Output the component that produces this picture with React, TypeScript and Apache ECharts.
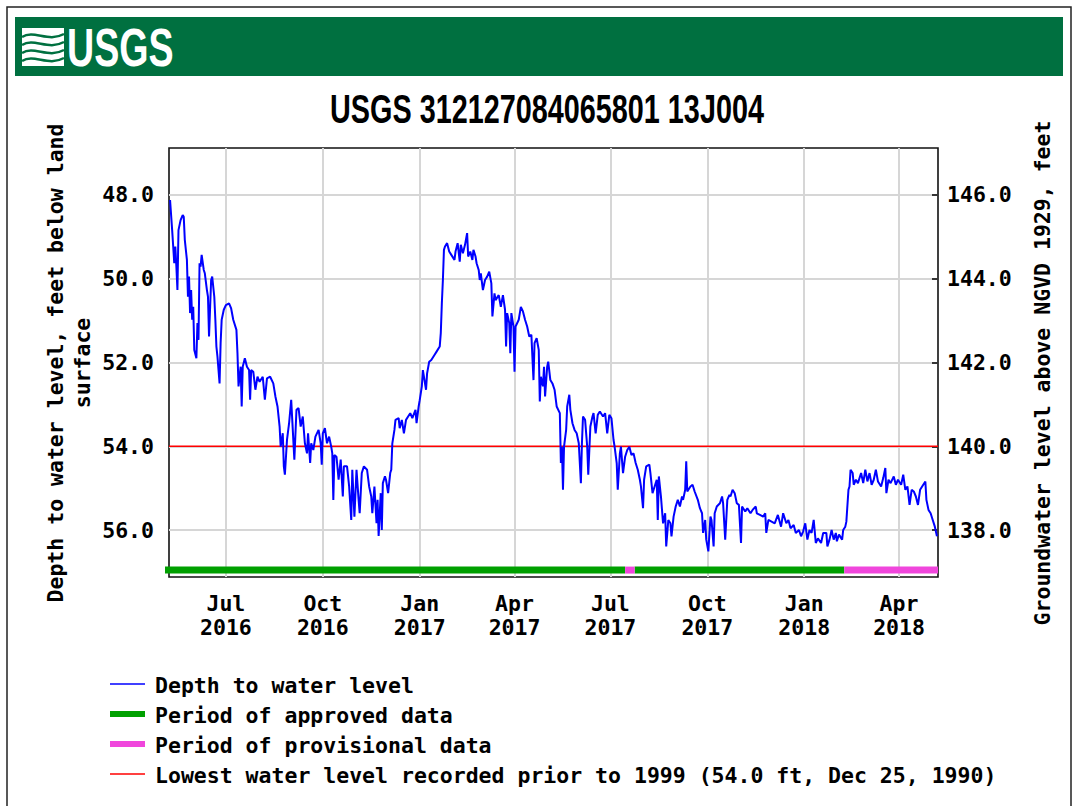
import React, { useEffect, useRef } from "react";
import * as echarts from "echarts";

// ---------- data ----------
const X_MIN = "2016-05-08";
const X_MAX = "2018-05-08";

const xTickDates = [
  "2016-07-01", "2016-10-01", "2017-01-01", "2017-04-01",
  "2017-07-01", "2017-10-01", "2018-01-01", "2018-04-01",
];
const depthTicks = [48, 50, 52, 54, 56];
const elevationTicks = [138, 140, 142, 144, 146];
const landSurfaceElevation = 194; // elevation = 194 - depth
const lowestLevel = 54.0;
const statusBarDepth = 56.957;

const approvedPeriods: [string, string][] = [
  ["2016-05-04", "2017-07-15"],
  ["2017-07-24", "2018-02-08"],
];
const provisionalPeriods: [string, string][] = [
  ["2017-07-15", "2017-07-24"],
  ["2018-02-08", "2018-05-08"],
];

const depthToWater: [string, number][] = [
  ["2016-05-09", 48.12], ["2016-05-11", 48.84], ["2016-05-13", 49.63], ["2016-05-14", 49.23],
  ["2016-05-15", 49.71], ["2016-05-16", 50.27], ["2016-05-17", 48.84], ["2016-05-19", 48.6],
  ["2016-05-21", 48.48], ["2016-05-22", 48.52], ["2016-05-23", 49.07], ["2016-05-25", 49.55],
  ["2016-05-26", 50.43], ["2016-05-27", 49.95], ["2016-05-28", 50.82], ["2016-05-29", 50.27],
  ["2016-05-30", 50.98], ["2016-05-31", 50.67], ["2016-06-01", 51.7], ["2016-06-03", 51.9],
  ["2016-06-04", 51.06], ["2016-06-05", 51.46], ["2016-06-06", 49.63], ["2016-06-07", 49.71],
  ["2016-06-08", 49.43], ["2016-06-10", 49.79], ["2016-06-11", 49.87], ["2016-06-13", 50.27],
  ["2016-06-14", 50.43], ["2016-06-15", 51.38], ["2016-06-17", 50.03], ["2016-06-18", 49.95],
  ["2016-06-20", 50.43], ["2016-06-21", 50.98], ["2016-06-22", 51.62], ["2016-06-23", 51.86],
  ["2016-06-25", 52.5], ["2016-06-26", 51.54], ["2016-06-27", 50.98], ["2016-06-29", 50.74],
  ["2016-07-01", 50.63], ["2016-07-04", 50.59], ["2016-07-06", 50.71], ["2016-07-08", 50.98],
  ["2016-07-11", 51.22], ["2016-07-12", 51.78], ["2016-07-13", 52.57], ["2016-07-15", 52.1],
  ["2016-07-16", 53.05], ["2016-07-17", 52.1], ["2016-07-19", 51.9], ["2016-07-21", 52.1],
  ["2016-07-23", 52.18], ["2016-07-24", 52.89], ["2016-07-25", 52.18], ["2016-07-27", 52.22],
  ["2016-07-29", 52.65], ["2016-07-31", 52.34], ["2016-08-02", 52.46], ["2016-08-05", 52.34],
  ["2016-08-07", 52.89], ["2016-08-09", 52.38], ["2016-08-12", 52.34], ["2016-08-15", 52.5],
  ["2016-08-17", 52.81], ["2016-08-19", 53.05], ["2016-08-21", 53.53], ["2016-08-22", 54.01],
  ["2016-08-24", 53.69], ["2016-08-25", 54.48], ["2016-08-26", 54.68], ["2016-08-28", 53.85],
  ["2016-08-30", 53.45], ["2016-09-01", 52.89], ["2016-09-02", 53.37], ["2016-09-04", 54.32],
  ["2016-09-06", 53.13], ["2016-09-08", 53.09], ["2016-09-10", 53.53], ["2016-09-12", 53.29],
  ["2016-09-14", 53.93], ["2016-09-16", 54.17], ["2016-09-17", 53.69], ["2016-09-19", 54.4],
  ["2016-09-20", 53.93], ["2016-09-22", 54.09], ["2016-09-24", 53.77], ["2016-09-27", 53.61],
  ["2016-09-29", 53.93], ["2016-09-30", 54.44], ["2016-10-01", 53.69], ["2016-10-03", 53.57],
  ["2016-10-05", 53.93], ["2016-10-07", 53.77], ["2016-10-09", 54.01], ["2016-10-10", 54.17],
  ["2016-10-11", 55.28], ["2016-10-12", 54.21], ["2016-10-14", 54.25], ["2016-10-16", 54.8],
  ["2016-10-18", 54.32], ["2016-10-20", 55.2], ["2016-10-21", 54.48], ["2016-10-24", 54.48],
  ["2016-10-26", 54.96], ["2016-10-28", 55.76], ["2016-10-29", 54.56], ["2016-10-31", 55.68],
  ["2016-11-02", 54.56], ["2016-11-04", 55.28], ["2016-11-05", 55.6], ["2016-11-07", 54.64],
  ["2016-11-09", 54.48], ["2016-11-12", 54.56], ["2016-11-14", 54.96], ["2016-11-16", 55.2],
  ["2016-11-17", 55.6], ["2016-11-19", 54.96], ["2016-11-21", 55.84], ["2016-11-22", 55.28],
  ["2016-11-23", 56.14], ["2016-11-25", 55.12], ["2016-11-26", 56.0], ["2016-11-27", 54.88],
  ["2016-11-29", 54.72], ["2016-11-30", 54.8], ["2016-12-02", 55.12], ["2016-12-04", 54.64],
  ["2016-12-05", 54.56], ["2016-12-06", 53.93], ["2016-12-08", 53.61], ["2016-12-09", 53.37],
  ["2016-12-12", 53.33], ["2016-12-13", 53.57], ["2016-12-15", 53.37], ["2016-12-17", 53.69],
  ["2016-12-19", 53.37], ["2016-12-21", 53.29], ["2016-12-23", 53.21], ["2016-12-25", 53.33],
  ["2016-12-28", 53.13], ["2016-12-29", 53.45], ["2016-12-31", 53.05], ["2017-01-01", 52.9],
  ["2017-01-03", 52.57], ["2017-01-04", 52.18], ["2017-01-07", 52.65], ["2017-01-08", 52.26],
  ["2017-01-10", 51.98], ["2017-01-12", 51.94], ["2017-01-15", 51.82], ["2017-01-17", 51.74],
  ["2017-01-20", 51.62], ["2017-01-21", 51.3], ["2017-01-22", 50.59], ["2017-01-23", 50.03],
  ["2017-01-24", 49.31], ["2017-01-25", 49.23], ["2017-01-27", 49.15], ["2017-01-29", 49.35],
  ["2017-01-31", 49.43], ["2017-02-03", 49.55], ["2017-02-04", 49.35], ["2017-02-06", 49.15],
  ["2017-02-08", 49.59], ["2017-02-09", 49.19], ["2017-02-11", 49.39], ["2017-02-13", 49.19],
  ["2017-02-15", 48.91], ["2017-02-16", 49.47], ["2017-02-18", 49.35], ["2017-02-20", 49.55],
  ["2017-02-21", 49.31], ["2017-02-23", 49.47], ["2017-02-24", 49.63], ["2017-02-26", 49.79],
  ["2017-02-27", 50.03], ["2017-02-28", 49.87], ["2017-03-02", 50.27], ["2017-03-04", 50.03],
  ["2017-03-06", 49.95], ["2017-03-08", 49.83], ["2017-03-10", 50.11], ["2017-03-11", 50.9],
  ["2017-03-13", 50.35], ["2017-03-14", 50.51], ["2017-03-17", 50.39], ["2017-03-19", 50.67],
  ["2017-03-21", 50.39], ["2017-03-23", 50.74], ["2017-03-24", 51.62], ["2017-03-25", 50.82],
  ["2017-03-27", 51.06], ["2017-03-28", 51.78], ["2017-03-29", 50.82], ["2017-03-31", 51.14],
  ["2017-04-01", 52.22], ["2017-04-02", 51.14], ["2017-04-05", 50.98], ["2017-04-07", 50.67],
  ["2017-04-09", 50.78], ["2017-04-11", 50.98], ["2017-04-13", 51.14], ["2017-04-15", 51.38],
  ["2017-04-17", 51.34], ["2017-04-19", 52.42], ["2017-04-20", 51.54], ["2017-04-22", 51.42],
  ["2017-04-24", 51.7], ["2017-04-25", 52.93], ["2017-04-26", 52.34], ["2017-04-28", 52.57],
  ["2017-04-29", 52.1], ["2017-04-30", 52.81], ["2017-05-02", 52.1], ["2017-05-03", 51.98],
  ["2017-05-05", 52.42], ["2017-05-07", 52.5], ["2017-05-09", 52.65], ["2017-05-11", 53.05],
  ["2017-05-14", 53.21], ["2017-05-15", 54.4], ["2017-05-16", 54.01], ["2017-05-17", 55.04],
  ["2017-05-18", 54.01], ["2017-05-20", 53.61], ["2017-05-21", 53.05], ["2017-05-23", 52.77],
  ["2017-05-24", 53.13], ["2017-05-26", 53.45], ["2017-05-28", 53.61], ["2017-05-30", 53.69],
  ["2017-06-01", 53.93], ["2017-06-03", 54.88], ["2017-06-04", 53.93], ["2017-06-05", 53.29],
  ["2017-06-07", 53.37], ["2017-06-09", 54.01], ["2017-06-10", 54.68], ["2017-06-12", 53.53],
  ["2017-06-14", 53.29], ["2017-06-15", 53.21], ["2017-06-17", 53.69], ["2017-06-19", 53.25],
  ["2017-06-21", 53.17], ["2017-06-24", 53.29], ["2017-06-26", 53.21], ["2017-06-28", 53.69],
  ["2017-06-30", 53.25], ["2017-07-02", 53.33], ["2017-07-04", 53.85], ["2017-07-05", 54.01],
  ["2017-07-07", 54.4], ["2017-07-08", 55.04], ["2017-07-10", 54.17], ["2017-07-11", 54.01],
  ["2017-07-13", 54.64], ["2017-07-15", 54.25], ["2017-07-17", 54.09], ["2017-07-19", 54.01],
  ["2017-07-21", 54.21], ["2017-07-23", 54.17], ["2017-07-25", 54.4], ["2017-07-27", 54.56],
  ["2017-07-29", 54.8], ["2017-07-30", 54.96], ["2017-08-01", 55.48], ["2017-08-02", 54.8],
  ["2017-08-04", 54.48], ["2017-08-07", 54.44], ["2017-08-08", 54.64], ["2017-08-10", 55.12],
  ["2017-08-12", 54.96], ["2017-08-14", 54.8], ["2017-08-15", 55.76], ["2017-08-16", 54.72],
  ["2017-08-18", 55.2], ["2017-08-20", 55.84], ["2017-08-22", 55.6], ["2017-08-23", 56.39],
  ["2017-08-25", 55.76], ["2017-08-27", 55.84], ["2017-08-28", 56.15], ["2017-08-30", 55.68],
  ["2017-09-01", 55.44], ["2017-09-03", 55.28], ["2017-09-05", 55.44], ["2017-09-07", 55.2],
  ["2017-09-08", 55.28], ["2017-09-10", 55.04], ["2017-09-11", 54.36], ["2017-09-12", 55.08],
  ["2017-09-15", 54.96], ["2017-09-17", 54.92], ["2017-09-19", 55.08], ["2017-09-22", 55.28],
  ["2017-09-24", 55.48], ["2017-09-26", 55.6], ["2017-09-27", 56.07], ["2017-09-29", 55.76],
  ["2017-09-30", 56.23], ["2017-10-02", 56.51], ["2017-10-04", 55.68], ["2017-10-05", 55.76],
  ["2017-10-07", 56.39], ["2017-10-08", 55.6], ["2017-10-10", 55.44], ["2017-10-13", 55.36],
  ["2017-10-15", 55.2], ["2017-10-16", 55.36], ["2017-10-18", 56.23], ["2017-10-20", 55.28],
  ["2017-10-22", 55.16], ["2017-10-23", 55.2], ["2017-10-25", 55.04], ["2017-10-27", 55.12],
  ["2017-10-29", 55.36], ["2017-10-31", 55.4], ["2017-11-02", 56.31], ["2017-11-03", 55.44],
  ["2017-11-06", 55.56], ["2017-11-08", 55.48], ["2017-11-11", 55.6], ["2017-11-13", 55.52],
  ["2017-11-16", 55.44], ["2017-11-17", 55.6], ["2017-11-20", 55.64], ["2017-11-23", 55.68],
  ["2017-11-25", 55.6], ["2017-11-26", 56.07], ["2017-11-28", 55.76], ["2017-12-01", 55.8],
  ["2017-12-04", 55.84], ["2017-12-07", 55.64], ["2017-12-10", 55.92], ["2017-12-12", 55.6],
  ["2017-12-15", 55.84], ["2017-12-17", 55.76], ["2017-12-19", 55.96], ["2017-12-22", 55.88],
  ["2017-12-24", 56.07], ["2017-12-27", 56.0], ["2017-12-29", 56.15], ["2017-12-31", 56.03],
  ["2018-01-02", 55.84], ["2018-01-04", 56.23], ["2018-01-06", 56.0], ["2018-01-08", 56.07],
  ["2018-01-10", 55.76], ["2018-01-12", 56.31], ["2018-01-14", 56.2], ["2018-01-17", 56.31],
  ["2018-01-19", 56.07], ["2018-01-22", 56.07], ["2018-01-23", 56.39], ["2018-01-25", 56.23],
  ["2018-01-27", 56.0], ["2018-01-29", 56.23], ["2018-01-31", 56.07], ["2018-02-01", 56.27],
  ["2018-02-03", 56.11], ["2018-02-06", 56.23], ["2018-02-07", 56.0], ["2018-02-09", 55.92],
  ["2018-02-10", 55.8], ["2018-02-12", 55.04], ["2018-02-13", 54.96], ["2018-02-14", 54.56],
  ["2018-02-16", 54.64], ["2018-02-17", 54.92], ["2018-02-19", 54.8], ["2018-02-21", 54.88],
  ["2018-02-24", 54.64], ["2018-02-26", 54.88], ["2018-02-28", 54.56], ["2018-03-02", 54.84],
  ["2018-03-04", 54.64], ["2018-03-06", 54.92], ["2018-03-08", 54.8], ["2018-03-10", 54.56],
  ["2018-03-12", 54.84], ["2018-03-15", 54.96], ["2018-03-17", 54.76], ["2018-03-19", 54.52],
  ["2018-03-20", 55.12], ["2018-03-22", 54.8], ["2018-03-24", 54.88], ["2018-03-27", 54.72],
  ["2018-03-29", 54.92], ["2018-03-31", 54.8], ["2018-04-03", 54.92], ["2018-04-05", 54.68],
  ["2018-04-07", 55.04], ["2018-04-09", 54.96], ["2018-04-11", 55.4], ["2018-04-13", 55.04],
  ["2018-04-15", 55.08], ["2018-04-17", 55.2], ["2018-04-19", 55.4], ["2018-04-21", 55.04],
  ["2018-04-24", 54.92], ["2018-04-26", 54.84], ["2018-04-27", 55.28], ["2018-04-29", 55.52],
  ["2018-05-01", 55.6], ["2018-05-03", 55.76], ["2018-05-05", 55.92], ["2018-05-07", 56.15],
];

const titleText = "USGS 312127084065801 13J004";
const leftAxisName = ["Depth to water level, feet below land", "surface"];
const rightAxisName = "Groundwater level above NGVD 1929, feet";
const legendLabels = [
  "Depth to water level",
  "Period of approved data",
  "Period of provisional data",
  "Lowest water level recorded prior to 1999 (54.0 ft, Dec 25, 1990)",
];

// ---------- styling ----------
const MONO = '"DejaVu Sans Mono", "Liberation Mono", monospace';
const FS = 21.5;
const BLUE = "#0000ff";
const GREEN = "#00a000";
const PINK = "#f046dc";
const RED = "#ff0000";
const GRIDC = "#d6d6d6";
const MONTHS = ["Jan", "Feb", "Mar", "Apr", "May", "Jun", "Jul", "Aug", "Sep", "Oct", "Nov", "Dec"];

const toTime = (s: string) => {
  const [y, m, d] = s.split("-").map(Number);
  return new Date(y, m - 1, d).getTime();
};

function buildOption() {
  const ts = xTickDates.map(toTime);
  const depthMin = 46.878;
  const depthMax = 57.122;
  const periodSeries = (periods: [string, string][], name: string, color: string) =>
    periods.map(([a, b]) => ({
      type: "line",
      name,
      data: [[toTime(a), statusBarDepth], [toTime(b), statusBarDepth]],
      symbol: "none",
      silent: true,
      clip: false,
      z: 3,
      lineStyle: { color, width: 7, cap: "butt" },
    }));

  const text = (t: string, x: number, y: number, extra: any = {}) => ({
    type: "text",
    x,
    y,
    silent: true,
    ...extra,
    style: {
      text: t,
      fill: "#000",
      fontFamily: MONO,
      fontSize: FS,
      fontWeight: "bold",
      align: "left",
      verticalAlign: "middle",
      textAlign: "left",
      textVerticalAlign: "middle",
      ...(extra.style || {}),
    },
  });

  const legendY = [684, 714, 744, 774];
  const legendColors = [BLUE, GREEN, PINK, RED];
  const legendWidths = [1.6, 6, 6, 1.6];

  const waveLines = [7, 15, 23, 31].map((y) => ({
    type: "bezierCurve",
    silent: true,
    shape: { x1: 0, y1: y + 2, cpx1: 12, cpy1: y - 6, cpx2: 26, cpy2: y + 8, x2: 42, y2: y - 1 },
    style: { stroke: "#007040", lineWidth: 2.5, fill: null },
  }));

  return {
    animation: false,
    backgroundColor: "#ffffff",
    grid: {
      left: 169,
      right: 140,
      top: 148,
      bottom: 229,
      show: true,
      borderColor: "#111",
      borderWidth: 1.6,
      backgroundColor: "transparent",
    },
    xAxis: {
      type: "value",
      min: toTime(X_MIN),
      max: toTime(X_MAX),
      axisLine: { show: false },
      axisTick: { show: false, customValues: ts },
      axisLabel: {
        customValues: ts,
        formatter: (v: number) => {
          const d = new Date(v);
          return MONTHS[d.getMonth()] + "\n" + d.getFullYear();
        },
        fontFamily: MONO,
        fontSize: FS,
        fontWeight: "bold",
        color: "#000",
        lineHeight: 24,
        margin: 14,
        hideOverlap: false,
      },
      splitLine: { show: true, lineStyle: { color: GRIDC, width: 2 } },
    },
    yAxis: [
      {
        type: "value",
        inverse: true,
        min: depthMin,
        max: depthMax,
        position: "left",
        axisLine: { show: false },
        axisTick: { show: false, customValues: depthTicks },
        axisLabel: {
          customValues: depthTicks,
          formatter: (v: number) => v.toFixed(1),
          fontFamily: MONO,
          fontSize: FS,
          fontWeight: "bold",
          color: "#000",
          margin: 15,
        },
        splitLine: { show: true, lineStyle: { color: GRIDC, width: 2 } },
      },
      {
        type: "value",
        min: landSurfaceElevation - depthMax,
        max: landSurfaceElevation - depthMin,
        position: "right",
        axisLine: { show: false },
        axisTick: {
          show: true,
          inside: true,
          length: 6,
          customValues: elevationTicks,
          lineStyle: { color: "#000", width: 1.5 },
        },
        axisLabel: {
          customValues: elevationTicks,
          formatter: (v: number) => v.toFixed(1),
          fontFamily: MONO,
          fontSize: FS,
          fontWeight: "bold",
          color: "#000",
          margin: 9,
        },
        splitLine: { show: false },
      },
    ],
    series: [
      {
        type: "line",
        name: legendLabels[3],
        data: [[toTime(X_MIN), lowestLevel], [toTime(X_MAX), lowestLevel]],
        symbol: "none",
        silent: true,
        z: 2,
        lineStyle: { color: RED, width: 1.6 },
      },
      ...periodSeries(approvedPeriods, legendLabels[1], GREEN),
      ...periodSeries(provisionalPeriods, legendLabels[2], PINK),
      {
        type: "line",
        name: legendLabels[0],
        data: depthToWater.map(([d, v]) => [toTime(d), v]),
        symbol: "none",
        silent: true,
        z: 4,
        lineStyle: { color: BLUE, width: 2 },
      },
    ],
    graphic: [
      // outer frame
      {
        type: "polyline",
        silent: true,
        shape: { points: [[7, 806], [7, 7], [1071, 7], [1071, 806]] },
        style: { stroke: "#222", lineWidth: 1.5, fill: null },
      },
      // header band
      {
        type: "rect",
        silent: true,
        shape: { x: 15, y: 17, width: 1048, height: 59 },
        style: { fill: "#007040" },
      },
      {
        type: "group",
        x: 22,
        y: 28,
        silent: true,
        children: [
          { type: "rect", shape: { x: 0, y: 0, width: 42, height: 38 }, style: { fill: "#fff" } },
          ...waveLines,
        ],
      },
      text("USGS", 67, 48, {
        scaleX: 0.71,
        style: { fill: "#fff", fontFamily: '"Liberation Sans", Arial, sans-serif', fontSize: 53, fontWeight: "bold" },
      }),
      // title
      text(titleText, 547, 109, {
        scaleX: 0.72,
        style: {
          fontFamily: '"Liberation Sans", Arial, sans-serif',
          fontSize: 40,
          fontWeight: "bold",
          align: "center",
          textAlign: "center",
        },
      }),
      // axis names
      text(leftAxisName[0], 55, 363, {
        rotation: Math.PI / 2,
        style: { align: "center", textAlign: "center" },
      }),
      text(leftAxisName[1], 82, 363, {
        rotation: Math.PI / 2,
        style: { align: "center", textAlign: "center" },
      }),
      text(rightAxisName, 1042, 373, {
        rotation: Math.PI / 2,
        style: { align: "center", textAlign: "center" },
      }),
      // legend
      ...legendLabels.flatMap((lab, i) => [
        {
          type: "line",
          silent: true,
          shape: { x1: 110, y1: legendY[i], x2: 145, y2: legendY[i] },
          style: { stroke: legendColors[i], lineWidth: legendWidths[i] },
        },
        text(lab, 155, legendY[i] + 1),
      ]),
    ],
  };
}

export default function App() {
  const ref = useRef<HTMLDivElement>(null);
  useEffect(() => {
    document.body.style.margin = "0";
    const chart = echarts.init(ref.current!, null, { renderer: "svg" });
    chart.setOption(buildOption() as any);
    return () => chart.dispose();
  }, []);
  return <div ref={ref} style={{ width: 1078, height: 806, background: "#fff" }} />;
}
